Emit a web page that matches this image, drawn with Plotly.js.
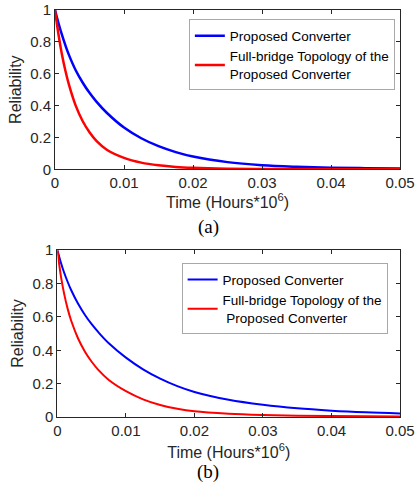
<!DOCTYPE html>
<html>
<head>
<meta charset="utf-8">
<script src="https://cdn.plot.ly/plotly-3.0.1.min.js"></script>
<style>
html,body{margin:0;padding:0;background:#fff;}
#chart{width:416px;height:490px;}
</style>
</head>
<body>
<div id="chart"></div>
<script>
// ---- data ----
var seriesNames = ["Proposed Converter", "Full-bridge Topology of the<br>Proposed Converter"];

var timeA = [0, 0.0005, 0.001, 0.0015, 0.002, 0.003, 0.004, 0.005, 0.006, 0.0075, 0.01, 0.0125, 0.015, 0.0175, 0.02, 0.025, 0.03, 0.035, 0.04, 0.045, 0.05];
var blueA = [1, 0.918, 0.845, 0.779, 0.72, 0.622, 0.545, 0.48, 0.425, 0.355, 0.262, 0.195, 0.145, 0.108, 0.08, 0.045, 0.026, 0.016, 0.010, 0.007, 0.005];
var redA  = [1, 0.848, 0.722, 0.62, 0.535, 0.40, 0.303, 0.232, 0.178, 0.123, 0.072, 0.042, 0.025, 0.015, 0.0095, 0.004, 0.002, 0.001, 0.0005, 0.0003, 0.0002];

var timeB = [0, 0.0005, 0.001, 0.0015, 0.002, 0.003, 0.004, 0.005, 0.006, 0.0075, 0.01, 0.0125, 0.015, 0.0175, 0.02, 0.025, 0.03, 0.035, 0.04, 0.045, 0.05];
var blueB = [1, 0.926, 0.863, 0.809, 0.761, 0.68, 0.613, 0.556, 0.507, 0.442, 0.356, 0.286, 0.23, 0.185, 0.15, 0.103, 0.073, 0.052, 0.038, 0.028, 0.021];
var redB  = [1, 0.846, 0.735, 0.648, 0.578, 0.472, 0.393, 0.331, 0.281, 0.222, 0.155, 0.106, 0.072, 0.049, 0.034, 0.0197, 0.0122, 0.008, 0.0055, 0.004, 0.003];

var xTicks = [0, 0.01, 0.02, 0.03, 0.04, 0.05];
var xTickText = ["0", "0.01", "0.02", "0.03", "0.04", "0.05"];
var yTicks = [0, 0.2, 0.4, 0.6, 0.8, 1];
var yTickText = ["0", "0.2", "0.4", "0.6", "0.8", "1"];
var xTitle = "Time (Hours*10<sup>6</sup>)";
var yTitle = "Reliability";
var panelLabels = ["(a)", "(b)"];

// ---- chart ----
var F = "Liberation Sans, Arial, sans-serif";
var txt = "#262626";
var traces = [
  {x: timeA, y: blueA, xaxis: "x", yaxis: "y", name: seriesNames[0], legend: "legend",
   mode: "lines", line: {color: "#0000ff", width: 2.5, shape: "spline", smoothing: 1}},
  {x: timeA, y: redA, xaxis: "x", yaxis: "y", name: seriesNames[1], legend: "legend",
   mode: "lines", line: {color: "#ff0000", width: 2.5, shape: "spline", smoothing: 1}},
  {x: timeB, y: blueB, xaxis: "x2", yaxis: "y2", name: seriesNames[0], legend: "legend2",
   mode: "lines", line: {color: "#0000ff", width: 2, shape: "spline", smoothing: 1}},
  {x: timeB, y: redB, xaxis: "x2", yaxis: "y2", name: seriesNames[1].replace("<br>", "<br> "), legend: "legend2",
   mode: "lines", line: {color: "#ff0000", width: 2, shape: "spline", smoothing: 1}}
];

function xax(domain, anchor, standoff) {
  return {domain: domain, anchor: anchor, range: [0, 0.05], tickvals: xTicks, ticktext: xTickText,
    ticks: "inside", ticklen: 4, tickcolor: "#262626", showline: true, linecolor: "#262626", linewidth: 1,
    mirror: "ticks", showgrid: false, zeroline: false, tickfont: {family: F, size: 15, color: txt},
    title: {text: xTitle, font: {family: F, size: 16, color: txt}, standoff: standoff}};
}
function yax(domain, anchor) {
  return {domain: domain, anchor: anchor, range: [0, 1], tickvals: yTicks, ticktext: yTickText,
    ticks: "inside", ticklen: 4, tickcolor: "#262626", showline: true, linecolor: "#262626", linewidth: 1,
    mirror: "ticks", showgrid: false, zeroline: false, tickfont: {family: F, size: 15, color: txt},
    title: {text: yTitle, font: {family: F, size: 16, color: txt}, standoff: 4}};
}

var legendStyle = function (x, y) {
  return {x: x, y: y, xanchor: "left", yanchor: "top", bgcolor: "#fff",
    bordercolor: "#a8a8a8", borderwidth: 1, font: {family: F, size: 13.5, color: "#000"},
    tracegroupgap: 0, itemwidth: 30};
};

var layout = {
  width: 416, height: 490,
  margin: {l: 55, r: 16, t: 10, b: 73},
  paper_bgcolor: "#fff", plot_bgcolor: "#fff",
  xaxis: xax([0, 1], "y", 2),
  yaxis: yax([0.6086, 1], "x"),
  xaxis2: xax([0.007, 1], "y2", 8),
  yaxis2: yax([0, 0.41], "x2"),
  legend: legendStyle(0.388, 0.977),
  legend2: legendStyle(0.367, 0.378),
  annotations: [
    {text: panelLabels[0], xref: "paper", yref: "paper", x: 0.4435, y: 0.467, xanchor: "center", yanchor: "middle",
     showarrow: false, font: {family: "Liberation Serif, Times New Roman, serif", size: 19, color: "#000"}},
    {text: panelLabels[1], xref: "paper", yref: "paper", x: 0.4435, y: -0.135, xanchor: "center", yanchor: "middle",
     showarrow: false, font: {family: "Liberation Serif, Times New Roman, serif", size: 19, color: "#000"}}
  ]
};

Plotly.newPlot("chart", traces, layout, {displayModeBar: false, staticPlot: true});
</script>
</body>
</html>
